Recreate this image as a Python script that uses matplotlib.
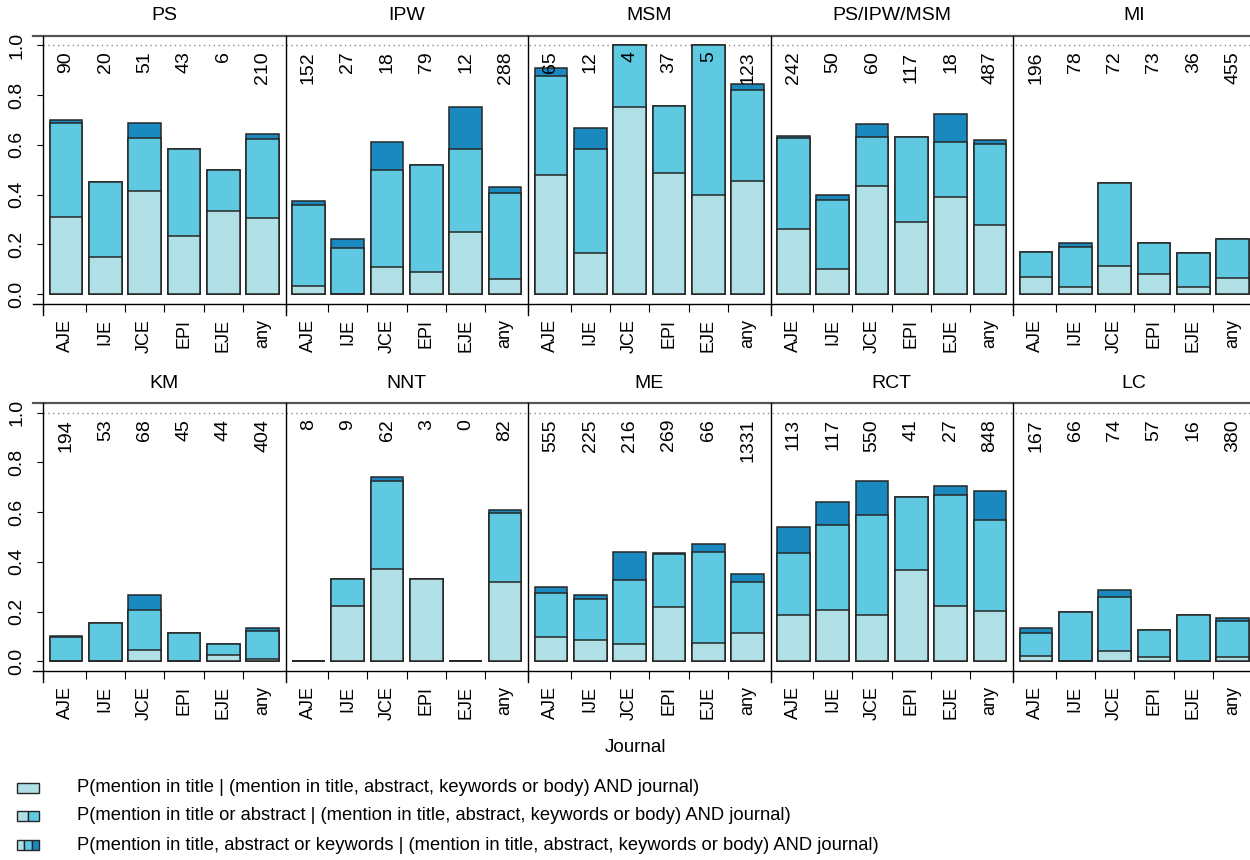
import numpy as np
import matplotlib
matplotlib.use('Agg')
import matplotlib.pyplot as plt
from matplotlib.patches import Rectangle

plt.rcParams['font.family'] = ['Liberation Sans', 'DejaVu Sans']

journals = ['AJE', 'IJE', 'JCE', 'EPI', 'EJE', 'any']

# top row
methods_top = ['PS', 'IPW', 'MSM', 'PS/IPW/MSM', 'MI']
n_top = [[90, 20, 51, 43, 6, 210],
         [152, 27, 18, 79, 12, 288],
         [65, 12, 4, 37, 5, 123],
         [242, 50, 60, 117, 18, 487],
         [196, 78, 72, 73, 36, 455]]
title_top = [[0.310, 0.151, 0.413, 0.233, 0.333, 0.305],
             [0.034, 0.0, 0.111, 0.089, 0.250, 0.060],
             [0.477, 0.167, 0.750, 0.486, 0.400, 0.455],
             [0.261, 0.100, 0.433, 0.292, 0.389, 0.277],
             [0.069, 0.028, 0.112, 0.082, 0.028, 0.067]]
abstract_top = [[0.687, 0.452, 0.626, 0.582, 0.500, 0.622],
                [0.360, 0.185, 0.500, 0.519, 0.583, 0.406],
                [0.877, 0.583, 1.000, 0.757, 1.000, 0.821],
                [0.626, 0.380, 0.633, 0.630, 0.611, 0.602],
                [0.169, 0.191, 0.445, 0.206, 0.167, 0.223]]
keywords_top = [[0.700, 0.452, 0.687, 0.582, 0.500, 0.642],
                [0.376, 0.222, 0.611, 0.519, 0.750, 0.430],
                [0.908, 0.667, 1.000, 0.757, 1.000, 0.846],
                [0.636, 0.400, 0.683, 0.633, 0.722, 0.620],
                [0.169, 0.206, 0.445, 0.206, 0.167, 0.223]]

# bottom row
methods_bot = ['KM', 'NNT', 'ME', 'RCT', 'LC']
n_bot = [[194, 53, 68, 45, 44, 404],
         [8, 9, 62, 3, 0, 82],
         [555, 225, 216, 269, 66, 1331],
         [113, 117, 550, 41, 27, 848],
         [167, 66, 74, 57, 16, 380]]
title_bot = [[0.0, 0.0, 0.046, 0.0, 0.024, 0.011],
             [0.0, 0.222, 0.371, 0.333, 0.0, 0.318],
             [0.097, 0.086, 0.070, 0.220, 0.075, 0.114],
             [0.187, 0.207, 0.188, 0.366, 0.222, 0.202],
             [0.020, 0.0, 0.043, 0.019, 0.0, 0.019]]
abstract_bot = [[0.098, 0.152, 0.207, 0.113, 0.070, 0.121],
                [0.0, 0.333, 0.726, 0.333, 0.0, 0.598],
                [0.274, 0.250, 0.325, 0.431, 0.440, 0.319],
                [0.434, 0.547, 0.590, 0.659, 0.667, 0.569],
                [0.114, 0.199, 0.258, 0.126, 0.188, 0.161]]
keywords_bot = [[0.103, 0.152, 0.266, 0.113, 0.070, 0.134],
                [0.0, 0.333, 0.742, 0.333, 0.0, 0.610],
                [0.297, 0.267, 0.441, 0.435, 0.470, 0.353],
                [0.542, 0.641, 0.724, 0.659, 0.704, 0.684],
                [0.132, 0.199, 0.285, 0.126, 0.188, 0.175]]

legend_labels = [
    'P(mention in title | (mention in title, abstract, keywords or body) AND journal)',
    'P(mention in title or abstract | (mention in title, abstract, keywords or body) AND journal)',
    'P(mention in title, abstract or keywords | (mention in title, abstract, keywords or body) AND journal)',
]

c_light = '#B0DFE5'
c_mid = '#5EC9E1'
c_dark = '#1A89BF'
c_edge = '#262626'
FS = 14

W, H = 1250, 860
fig = plt.figure(figsize=(W / 100, H / 100), dpi=100)

PANEL = 7.4


def draw_row(rect, methods, n, p_t, p_a, p_k):
    ax = fig.add_axes(rect)
    ax.set_xlim(0, PANEL * len(methods))
    ax.set_ylim(-0.038, 1.038)
    for s in ax.spines.values():
        s.set_visible(False)

    centers, labels, ticks = [], [], [0.0]
    for k, m in enumerate(methods):
        x0 = k * PANEL
        xs = x0 + 0.7 + 1.2 * np.arange(len(journals))
        ax.bar(xs, p_k[k], width=1, color=c_dark, edgecolor=c_edge, linewidth=1.1, zorder=2)
        ax.bar(xs, p_a[k], width=1, color=c_mid, edgecolor=c_edge, linewidth=1.1, zorder=3)
        ax.bar(xs, p_t[k], width=1, color=c_light, edgecolor=c_edge, linewidth=1.1, zorder=4)
        for x, c in zip(xs, n[k]):
            ax.text(x, 0.975, str(c), rotation=90, ha='center', va='top', fontsize=FS, zorder=6)
        ax.text(x0 + PANEL / 2, 1.075, m, transform=ax.get_xaxis_transform(),
                ha='center', va='center', fontsize=FS)
        centers += list(xs)
        labels += journals
        ticks += [x0 + 0.1 + 1.2 * j for j in range(1, 6)] + [x0 + PANEL]

    # dotted reference line at 1
    ax.axhline(1.0, color='#888888', linestyle=(0, (1, 2.5)), linewidth=1.0, zorder=1)

    # frame lines
    bb = ax.get_position()
    dx = 10 / (bb.width * W)
    dy = 11 / (bb.height * H)
    ax.plot([-dx, 1], [1, 1], transform=ax.transAxes, color='#555555', lw=1.6, clip_on=False)
    ax.plot([-dx, 1], [0, 0], transform=ax.transAxes, color='black', lw=1.0, clip_on=False)
    ax.plot([0, 0], [-dy, 1], transform=ax.transAxes, color='black', lw=1.0, clip_on=False)
    for k in range(1, len(methods)):
        ax.plot([k * PANEL] * 2, [-dy, 1], transform=ax.get_xaxis_transform(),
                color='black', lw=1.0, clip_on=False, zorder=5)

    ax.set_xticks(ticks)
    ax.set_xticklabels([])
    ax.set_xticks(centers, minor=True)
    ax.set_xticklabels(labels, minor=True, rotation=90, ha='center', va='top', fontsize=13)
    ax.tick_params(axis='x', which='major', direction='out', length=5.5, width=0.8)
    ax.tick_params(axis='x', which='minor', length=0, pad=11)

    yt = [0, 0.2, 0.4, 0.6, 0.8, 1.0]
    ax.set_yticks(yt)
    ax.set_yticklabels(['%.1f' % v for v in yt], rotation=90, va='center', fontsize=FS)
    ax.tick_params(axis='y', direction='out', length=4.5, width=0.8, pad=8)
    return ax


draw_row([43 / W, (H - 303.7) / H, 1212.5 / W, 268 / H],
         methods_top, n_top, title_top, abstract_top, keywords_top)
draw_row([43 / W, (H - 670.7) / H, 1212.5 / W, 267.4 / H],
         methods_bot, n_bot, title_bot, abstract_bot, keywords_bot)

fig.text(635 / W, 1 - 747 / H, 'Journal', ha='center', va='center', fontsize=13.5)

# legend
colors = [c_light, c_mid, c_dark]
rows_y = [788, 816, 845]
for i, (lab, yc) in enumerate(zip(legend_labels, rows_y)):
    nseg = i + 1
    x_left, w_tot, h_box = 17, 22, 10
    seg = w_tot / nseg
    for s in range(nseg):
        fig.add_artist(Rectangle(((x_left + s * seg) / W, 1 - (yc + h_box / 2) / H),
                                 seg / W, h_box / H, transform=fig.transFigure,
                                 facecolor=colors[s], edgecolor=c_edge, linewidth=1.0))
    fig.text(77 / W, 1 - yc / H, lab, ha='left', va='center', fontsize=13.2)

fig.savefig('out.png', dpi=100)
